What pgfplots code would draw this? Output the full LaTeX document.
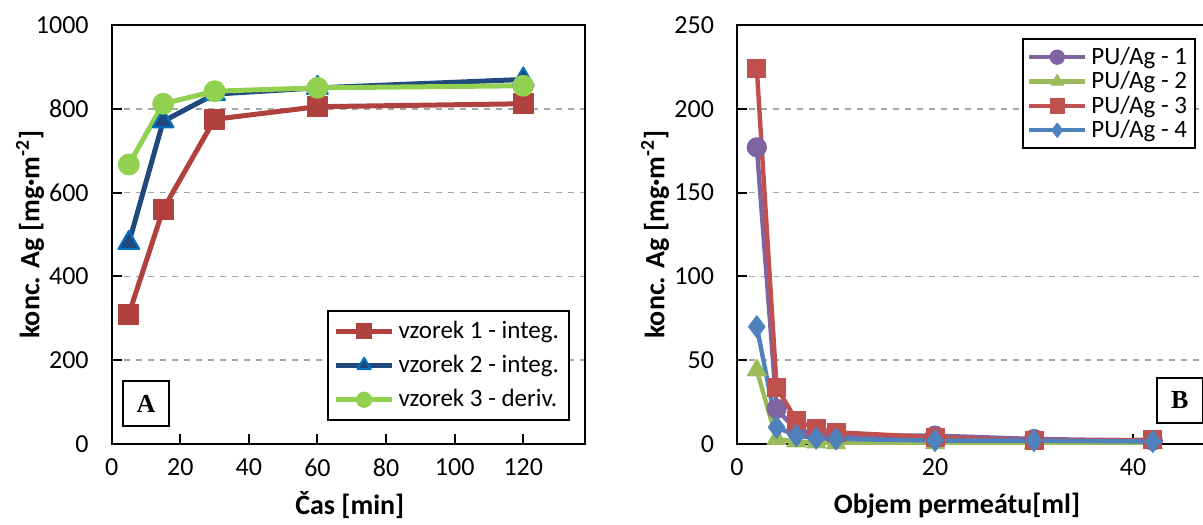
\documentclass[border=0pt]{standalone}
\usepackage{pgfplots}
\pgfplotsset{compat=1.18}
\usepackage{fontspec}
\setmainfont{Carlito}
\newfontfamily\tnr{Liberation Serif}
\definecolor{cred}{HTML}{B0413E}
\definecolor{cnavy}{HTML}{1F497D}
\definecolor{cblueedge}{HTML}{0070C0}
\definecolor{clime}{HTML}{92D050}
\definecolor{bpurple}{HTML}{8064A2}
\definecolor{bgreen}{HTML}{9BBB59}
\definecolor{bred}{HTML}{C0504D}
\definecolor{bblue}{HTML}{4F81BD}
\begin{document}
\begin{tikzpicture}
\path[use as bounding box] (0,0) rectangle (601.5pt,262pt);
\clip (0,0) rectangle (601.5pt,262pt);
\pgfplotsset{
  common/.style={
    scale only axis, height=209.5pt,
    axis line style={line width=1pt},
    tick style={black, line width=1pt},
    major tick length=5pt, tick align=inside,
    xtick pos=bottom, ytick pos=left,
    ymajorgrids, grid style={dashed, black!35, line width=0.8pt},
    ticklabel style={font=\fontsize{13}{14}\selectfont},
    yticklabel style={xshift=-8pt},
    xticklabel style={yshift=-4pt},
    /pgf/number format/assume math mode=true,
    /pgf/number format/1000 sep={},
    label style={font=\bfseries\fontsize{14}{15}\selectfont},
    legend cell align=left,
    legend image code/.code={\draw[mark repeat=2,mark phase=2,##1] plot coordinates {(0pt,0pt) (14pt,0pt) (28pt,0pt)};},
  }
}
% ---------- panel A ----------
\begin{axis}[common,
  at={(55.85pt,40pt)}, anchor=south west, width=236.65pt,
  xmin=0, xmax=138, ymin=0, ymax=1000,
  xtick={0,20,...,120}, ytick={0,200,...,1000},
  xlabel={Čas [min]},
  xlabel style={at={(rel axis cs:0.503,-0.146)}, anchor=center},
  ylabel={konc. Ag [mg·m\textsuperscript{-2}]},
  ylabel style={at={(rel axis cs:-0.1726,0.5)}, anchor=center},
  legend style={at={(0.968,0.055)}, anchor=south east, draw=black, line width=1pt,
    font=\fontsize{12.5}{13}\selectfont, row sep=3pt, inner sep=3pt},
  legend image post style={mark size=3.8pt},
  every axis plot/.append style={line join=round},
]
\addplot[color=cred, line width=2.5pt, mark=square*, mark size=5pt,
  mark options={fill=cred, draw=cred, line width=0.5pt}]
  coordinates {(5,310) (15,560) (30,775) (60,805) (120,812)};
\addlegendentry{vzorek 1 - integ.}
\addplot[color=cnavy, line width=2.5pt, mark=triangle*, mark size=6pt,
  mark options={fill=cnavy, draw=cblueedge, line width=1pt}]
  coordinates {(5,480) (15,770) (30,835) (60,850) (120,870)};
\addlegendentry{vzorek 2 - integ.}
\addplot[color=clime, line width=2.5pt, mark=*, mark size=5.2pt,
  mark options={fill=clime, draw=clime, line width=0.5pt}]
  coordinates {(5,667) (15,812) (30,842) (60,850) (120,855)};
\addlegendentry{vzorek 3 - deriv.}
\node[draw, line width=1pt, fill=white, minimum width=23pt, minimum height=22.5pt,
  inner sep=0pt, font=\tnr\bfseries\fontsize{13}{14}\selectfont]
  at (rel axis cs:0.0725,0.0955) {A};
\end{axis}
% ---------- panel B ----------
\begin{axis}[common,
  at={(368.5pt,40pt)}, anchor=south west, width=237.6pt,
  xmin=0, xmax=48, ymin=0, ymax=250,
  xtick={0,20,40}, ytick={0,50,...,250},
  xlabel={Objem permeátu[ml]},
  xlabel style={at={(rel axis cs:0.463,-0.146)}, anchor=center},
  ylabel={konc. Ag [mg·m\textsuperscript{-2}]},
  ylabel style={at={(rel axis cs:-0.1726,0.5)}, anchor=center},
  legend style={at={(0.966,0.969)}, anchor=north east, draw=black, line width=1pt,
    font=\fontsize{12.5}{13}\selectfont, row sep=-2pt, inner sep=2pt},
  legend image post style={mark size=3.6pt},
  every axis plot/.append style={line join=round},
]
\addplot[color=bpurple, line width=2.2pt, mark=*, mark size=4.8pt,
  mark options={fill=bpurple, draw=bpurple, line width=0.5pt}]
  coordinates {(2,177) (4,21) (6,8) (8,6) (10,5) (20,5) (30,3) (42,2)};
\addlegendentry{PU/Ag - 1}
\addplot[color=bgreen, line width=2.2pt, mark=triangle*, mark size=5.5pt,
  mark options={fill=bgreen, draw=bgreen, line width=0.5pt}]
  coordinates {(2,44) (4,3) (6,1.5) (8,1) (10,0.5) (20,0.5) (30,0.5) (42,0.5)};
\addlegendentry{PU/Ag - 2}
\addplot[color=bred, line width=2.2pt, mark=square*, mark size=4.5pt,
  mark options={fill=bred, draw=bred, line width=0.5pt}]
  coordinates {(2,224) (4,34) (6,14) (8,9) (10,7) (20,4) (30,2) (42,2.5)};
\addlegendentry{PU/Ag - 3}
\addplot[color=bblue, line width=2.2pt, mark=diamond*, mark size=5.5pt,
  mark options={fill=bblue, draw=bblue, line width=0.5pt}]
  coordinates {(2,70) (4,10) (6,5) (8,3.5) (10,3) (20,2) (30,2) (42,1.5)};
\addlegendentry{PU/Ag - 4}
\node[draw, line width=1pt, fill=white, minimum width=23pt, minimum height=22.5pt,
  inner sep=0pt, font=\tnr\bfseries\fontsize{13}{14}\selectfont]
  at (rel axis cs:0.932,0.104) {B};
\end{axis}
\end{tikzpicture}
\end{document}
